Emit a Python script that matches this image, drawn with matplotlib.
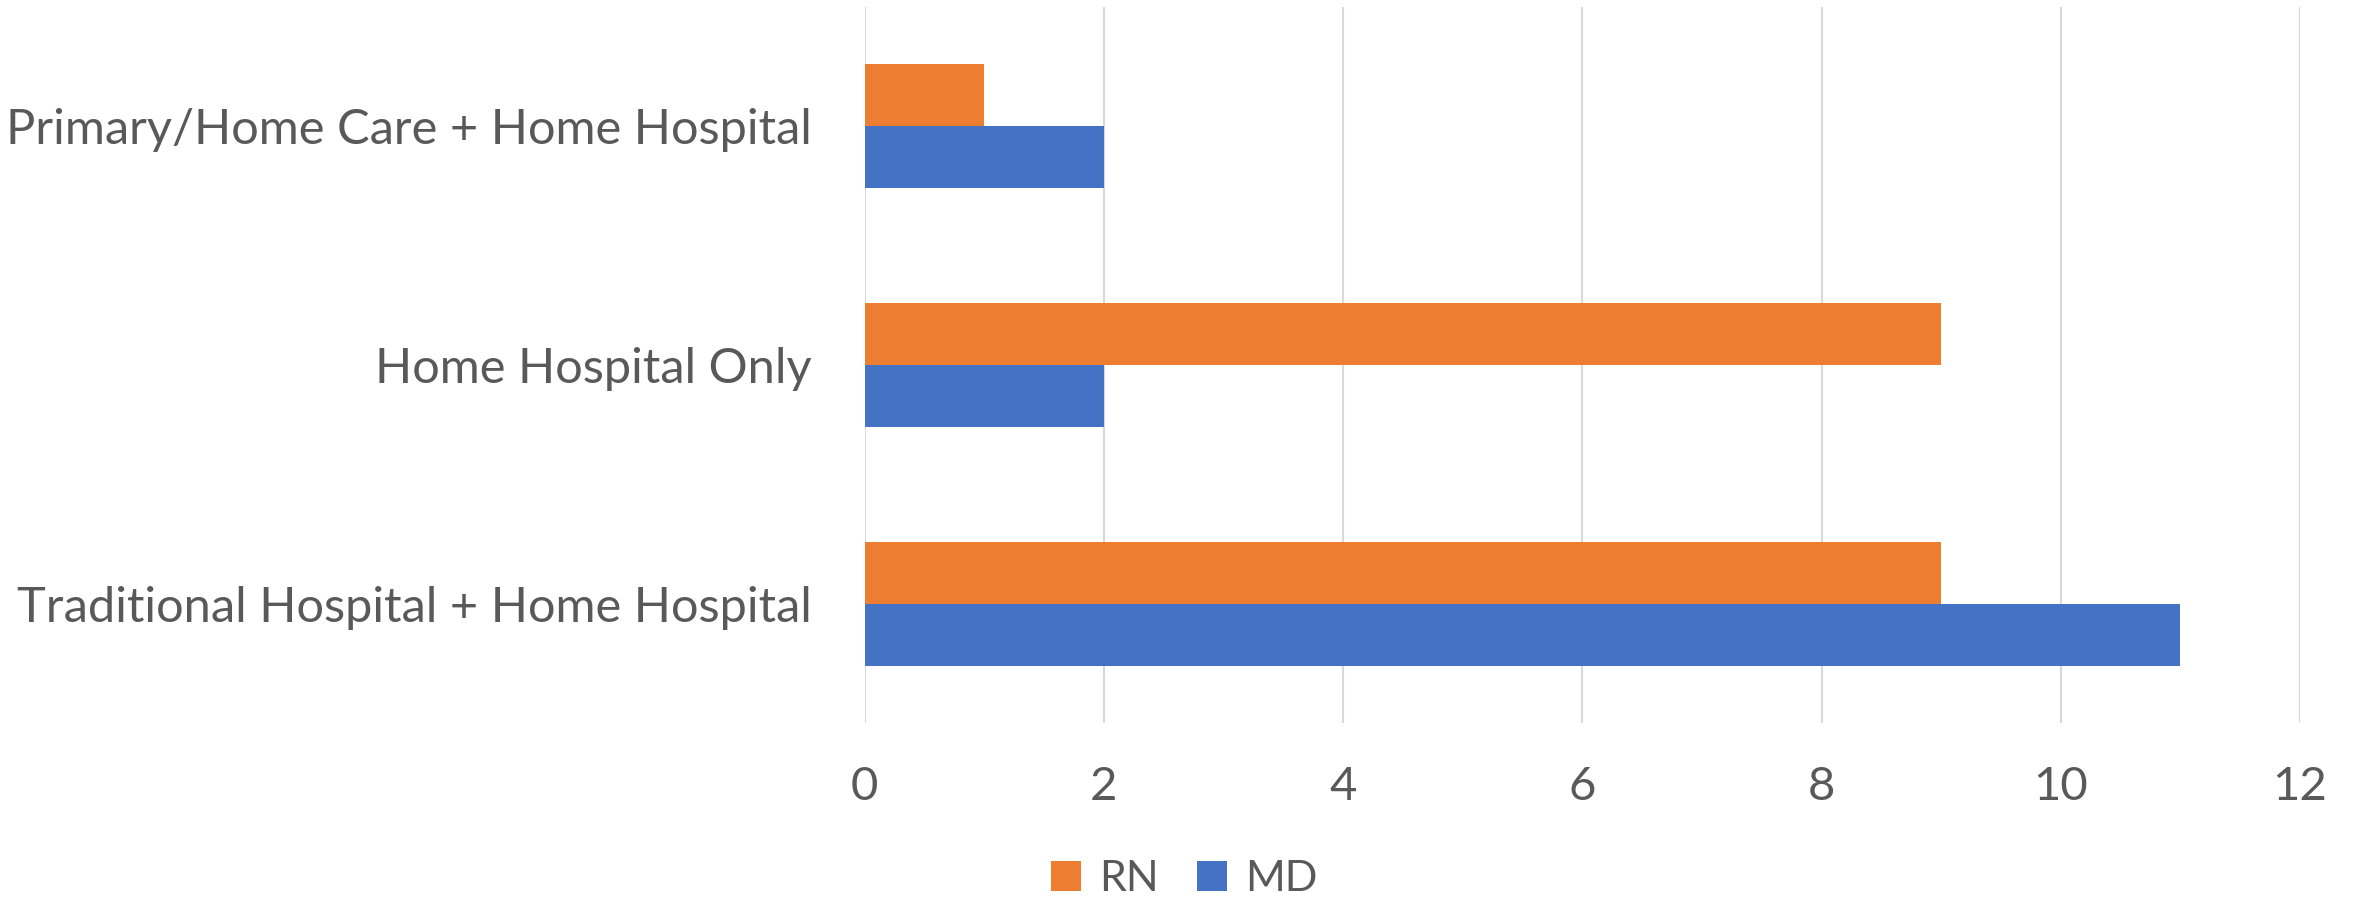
import matplotlib
matplotlib.use("Agg")
import matplotlib.pyplot as plt
from matplotlib.lines import Line2D
import numpy as np

# Data
categories = ["Traditional Hospital + Home Hospital",
              "Home Hospital Only",
              "Primary/Home Care + Home Hospital"]
rn_values = [9, 9, 1]
md_values = [11, 2, 2]
series_names = ["RN", "MD"]
x_ticks = [0, 2, 4, 6, 8, 10, 12]

# Styling
RN_COLOR = "#ED7D31"
MD_COLOR = "#4472C4"
TEXT_COLOR = "#595959"
GRID_COLOR = "#D9D9D9"

plt.rcParams["font.family"] = ["Lato", "DejaVu Sans"]

W, H, DPI = 2353, 901, 100
fig = plt.figure(figsize=(W / DPI, H / DPI), dpi=DPI)
ax = fig.add_axes([864.7 / W, 1 - 723 / H, (2300 - 864.7) / W, (723 - 7) / H])

y = np.arange(len(categories))
bar_h = 0.26
ax.barh(y + bar_h / 2, rn_values, height=bar_h, color=RN_COLOR, label=series_names[0], zorder=3)
ax.barh(y - bar_h / 2, md_values, height=bar_h, color=MD_COLOR, label=series_names[1], zorder=3)

ax.set_xlim(0, 12)
ax.set_ylim(-0.5, len(categories) - 0.5)
ax.set_xticks(x_ticks)
ax.set_xticklabels([str(t) for t in x_ticks])
ax.set_yticks(y)
ax.set_yticklabels(categories)

ax.grid(axis="x", color=GRID_COLOR, linewidth=1.5, zorder=0)
ax.set_axisbelow(True)
for s in ax.spines.values():
    s.set_visible(False)

ax.tick_params(axis="x", length=0, pad=31, labelsize=34, labelcolor=TEXT_COLOR)
ax.tick_params(axis="y", length=0, pad=38, labelsize=35.1, labelcolor=TEXT_COLOR)

handles = [Line2D([], [], marker="s", linestyle="none", markersize=21.6,
                  markeredgewidth=0, color=RN_COLOR),
           Line2D([], [], marker="s", linestyle="none", markersize=21.6,
                  markeredgewidth=0, color=MD_COLOR)]
fig.legend(handles, series_names, loc="center", bbox_to_anchor=(0.503, 0.024),
           ncol=2, frameon=False, fontsize=31, labelcolor=TEXT_COLOR,
           handlelength=0.75, handletextpad=0.4, columnspacing=0.85,
           borderpad=0, borderaxespad=0)

fig.savefig("out.png", dpi=DPI, facecolor="white")
